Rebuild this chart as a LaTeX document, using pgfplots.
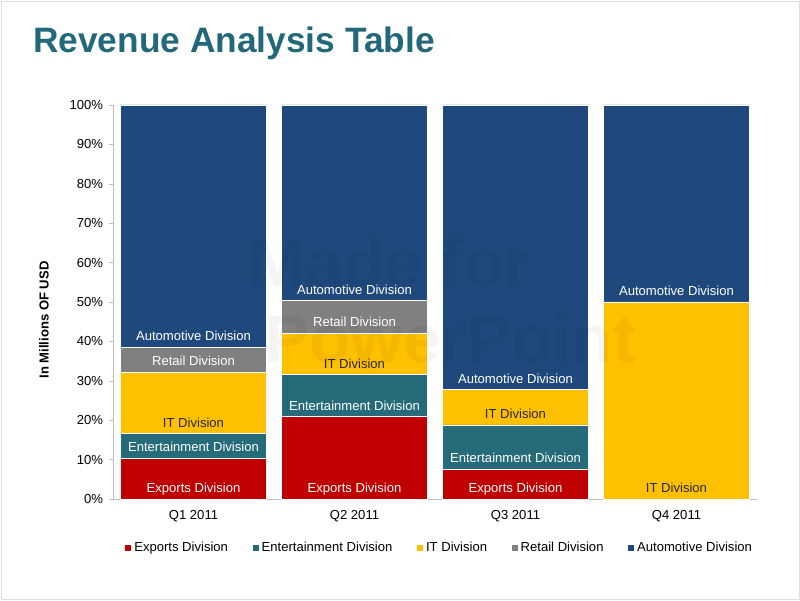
\documentclass[border=0pt]{standalone}
\usepackage{fontspec}
\setmainfont{Liberation Sans}
\usepackage{pgfplots}
\usepackage{pgfplotstable}
\pgfplotsset{compat=1.18}

\definecolor{exportsc}{HTML}{C00000}
\definecolor{entc}{HTML}{266B7A}
\definecolor{itc}{HTML}{FFC000}
\definecolor{retailc}{HTML}{808080}
\definecolor{autoc}{HTML}{1F497D}
\definecolor{titlec}{HTML}{22687A}
\definecolor{axisgray}{HTML}{BFBFBF}

% share of each division per quarter (%)
\pgfplotstableread{
x exports ent it retail auto
0 10.4 6.2 15.6 6.3 61.5
1 20.9 10.6 10.6 8.2 49.7
2 7.6 11.2 8.9 0 72.3
3 0 0 50 0 50
}\revenue

% label positions: base of each segment
\pgfplotstableread[col sep=comma]{
x,y,label
0,0,Exports Division
0,10.4,Entertainment Division
0,32.2,Retail Division
0,38.5,Automotive Division
1,0,Exports Division
1,20.9,Entertainment Division
1,42.1,Retail Division
1,50.3,Automotive Division
2,0,Exports Division
2,7.6,Entertainment Division
2,27.7,Automotive Division
3,50,Automotive Division
}\whitelabels

\pgfplotstableread[col sep=comma]{
x,y,label
0,16.6,IT Division
1,31.5,IT Division
2,18.8,IT Division
3,0,IT Division
}\darklabels

\newcommand{\chartfont}{\fontsize{9.3}{11}\selectfont}

\begin{document}
\begin{tikzpicture}
\path[use as bounding box] (0,0) rectangle (20cm,15cm);
\draw[gray!25] (0.02cm,0.02cm) rectangle (19.98cm,14.98cm);

\node[anchor=base west, font=\bfseries\fontsize{25.1}{28}\selectfont, text=titlec, inner sep=0pt]
  at (0.825cm,13.675cm) {Revenue Analysis Table};

\begin{axis}[
  at={(2.825cm,2.525cm)}, anchor=south west,
  scale only axis,
  width=16.1cm, height=9.85cm,
  ybar stacked,
  bar width=3.65cm,
  xmin=-0.5, xmax=3.5,
  ymin=0, ymax=100,
  xtick={0,1,2,3},
  xticklabels={Q1 2011,Q2 2011,Q3 2011,Q4 2011},
  ytick={0,10,...,100},
  yticklabel={\pgfmathprintnumber{\tick}\%},
  /pgf/number format/assume math mode=true,
  axis x line*=bottom,
  axis y line*=left,
  axis line style={draw=axisgray},
  tick align=outside,
  major tick length=2.5pt,
  y tick style={draw=axisgray},
  x tick style={draw=none},
  ticklabel style={font=\chartfont},
  yticklabel style={xshift=-1pt},
  xticklabel style={yshift=-2pt},
  legend style={at={(0.508,-0.124)}, anchor=center, legend columns=5,
    draw=none, font=\chartfont,
    /tikz/every even column/.append style={column sep=0.55cm}},
  legend image code/.code={\fill[#1,draw=none] (0cm,-0.075cm) rectangle (0.15cm,0.075cm);},
  every axis plot/.append style={draw=white, line width=0.6pt},
]
\addplot[fill=exportsc] table[x=x,y=exports] {\revenue};
\addplot[fill=entc] table[x=x,y=ent] {\revenue};
\addplot[fill=itc] table[x=x,y=it] {\revenue};
\addplot[fill=retailc] table[x=x,y=retail] {\revenue};
\addplot[fill=autoc] table[x=x,y=auto] {\revenue};
\legend{Exports Division,Entertainment Division,IT Division,Retail Division,Automotive Division}
\end{axis}

\begin{axis}[
  at={(2.825cm,2.525cm)}, anchor=south west,
  scale only axis,
  width=16.1cm, height=9.85cm,
  xmin=-0.5, xmax=3.5,
  ymin=0, ymax=100,
  hide axis,
  clip=false,
]
\addplot[only marks, mark=none, nodes near coords, point meta=explicit symbolic,
  every node near coord/.style={anchor=base, yshift=4.6pt, font=\chartfont, text=white, inner sep=0pt}]
  table[x=x,y=y,meta=label] {\whitelabels};
\addplot[only marks, mark=none, nodes near coords, point meta=explicit symbolic,
  every node near coord/.style={anchor=base, yshift=4.6pt, font=\chartfont, text=black!85, inner sep=0pt}]
  table[x=x,y=y,meta=label] {\darklabels};
\end{axis}

\node[rotate=90, font=\bfseries\chartfont] at (1.1cm,7.0cm) {In Millions OF USD};

\node[font=\bfseries\fontsize{48}{55}\selectfont, text=black, opacity=0.04] at (9.75cm,8.45cm) {Made for};
\node[font=\bfseries\fontsize{48}{55}\selectfont, text=black, opacity=0.04] at (11.25cm,6.55cm) {PowerPoint};
\end{tikzpicture}
\end{document}
